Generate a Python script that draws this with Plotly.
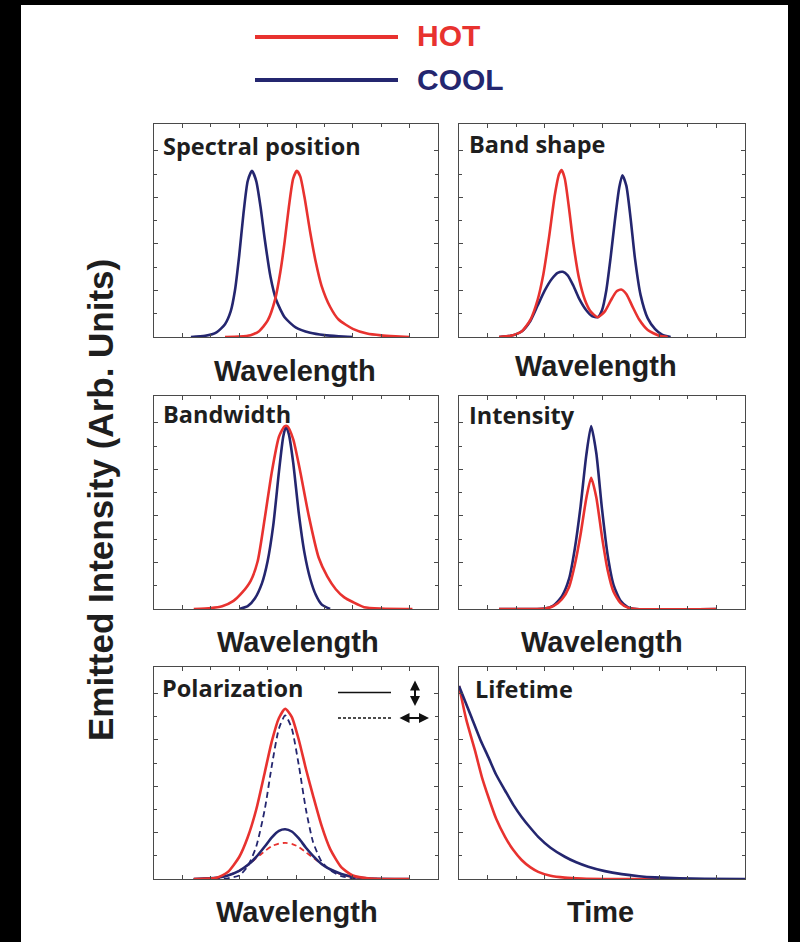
import plotly.graph_objects as go

# ---------------- data ----------------
# Panel 1: Spectral position
sp_hot_x = [2.5, 3.0, 3.4, 3.7, 4.0, 4.27, 4.45, 4.6, 4.75, 4.9, 5.03, 5.15, 5.3, 5.5, 5.7, 5.9, 6.2, 6.5, 7.0, 7.5, 8.0, 8.5, 9.0]
sp_hot_y = [0.0, 0.02, 0.08, 0.25, 0.7, 1.64, 2.8, 4.1, 5.6, 6.8, 7.14, 6.9, 6.0, 4.5, 3.2, 2.2, 1.3, 0.75, 0.35, 0.15, 0.07, 0.03, 0.0]
sp_cool_x = [1.3, 1.8, 2.2, 2.5, 2.7, 2.85, 3.0, 3.15, 3.3, 3.45, 3.6, 3.75, 3.9, 4.1, 4.3, 4.6, 5.0, 5.5, 6.0, 6.5, 7.0]
sp_cool_y = [0.0, 0.05, 0.2, 0.55, 1.1, 2.0, 3.5, 5.3, 6.7, 7.14, 6.7, 5.6, 4.2, 2.6, 1.6, 0.85, 0.4, 0.18, 0.08, 0.03, 0.0]

# Panel 2: Band shape
bs_hot_x = [1.4, 1.8, 2.2, 2.5, 2.75, 2.95, 3.15, 3.35, 3.5, 3.59, 3.7, 3.85, 4.0, 4.2, 4.4, 4.6, 4.85, 5.1, 5.3, 5.5, 5.67, 5.85, 6.05, 6.3, 6.6, 7.0, 7.3]
bs_hot_y = [0.0, 0.05, 0.25, 0.75, 1.6, 2.7, 4.3, 6.1, 7.0, 7.17, 6.8, 5.5, 4.0, 2.5, 1.6, 1.1, 0.85, 1.1, 1.55, 1.95, 2.04, 1.85, 1.35, 0.75, 0.3, 0.05, 0.0]
bs_cool_x = [1.4, 1.8, 2.2, 2.5, 2.75, 3.0, 3.25, 3.45, 3.63, 3.8, 4.0, 4.2, 4.45, 4.65, 4.85, 5.0, 5.15, 5.3, 5.45, 5.6, 5.71, 5.85, 6.0, 6.15, 6.35, 6.6, 6.85, 7.1, 7.4]
bs_cool_y = [0.0, 0.05, 0.25, 0.7, 1.35, 2.0, 2.5, 2.75, 2.8, 2.65, 2.2, 1.65, 1.15, 0.9, 0.85, 1.15, 2.0, 3.4, 5.0, 6.4, 6.95, 6.5, 5.1, 3.4, 1.8, 0.8, 0.35, 0.1, 0.0]

# Panel 3: Bandwidth
bw_hot_x = [1.4, 2.0, 2.4, 2.8, 3.1, 3.4, 3.65, 3.9, 4.15, 4.4, 4.6, 4.7, 4.9, 5.15, 5.45, 5.8, 6.1, 6.4, 6.7, 7.0, 7.4, 8.0, 9.1]
bw_hot_y = [0.0, 0.04, 0.12, 0.35, 0.7, 1.2, 2.05, 3.9, 5.9, 7.4, 7.85, 7.85, 7.3, 5.9, 4.0, 2.2, 1.4, 0.85, 0.5, 0.3, 0.08, 0.02, 0.0]
bw_cool_x = [3.0, 3.3, 3.55, 3.8, 4.0, 4.2, 4.4, 4.55, 4.65, 4.75, 4.9, 5.1, 5.3, 5.5, 5.7, 5.9, 6.2]
bw_cool_y = [0.0, 0.12, 0.45, 1.1, 2.05, 3.6, 5.9, 7.4, 7.85, 7.5, 6.3, 4.1, 2.4, 1.3, 0.6, 0.2, 0.0]

# Panel 4: Intensity
in_x = [1.4, 3.0, 3.3, 3.6, 3.85, 4.05, 4.25, 4.45, 4.62, 4.8, 5.0, 5.2, 5.4, 5.65, 5.9, 6.2, 9.0]
in_cool_y = [0.0, 0.02, 0.15, 0.55, 1.3, 2.6, 4.4, 6.6, 7.86, 6.7, 4.3, 2.3, 1.05, 0.35, 0.08, 0.0, 0.0]
in_hot_y = [0.0, 0.02, 0.12, 0.42, 0.95, 1.9, 3.2, 4.75, 5.64, 4.8, 3.1, 1.65, 0.75, 0.25, 0.06, 0.0, 0.0]

# Panel 5: Polarization
po_x = [1.4, 2.2, 2.6, 3.0, 3.3, 3.6, 3.9, 4.15, 4.4, 4.62, 4.85, 5.1, 5.35, 5.6, 5.9, 6.2, 6.6, 7.0, 7.6, 9.0]
po_hot_solid = [0.0, 0.05, 0.3, 0.95, 1.8, 3.0, 4.6, 5.95, 6.95, 7.35, 7.0, 6.0, 4.75, 3.6, 2.3, 1.3, 0.5, 0.15, 0.02, 0.0]
po_cool_dash = [0.0, 0.0, 0.03, 0.15, 0.55, 1.4, 3.0, 4.9, 6.5, 7.06, 6.5, 4.9, 3.0, 1.6, 0.75, 0.38, 0.12, 0.03, 0.0, 0.0]
po_cool_solid = [0.0, 0.05, 0.15, 0.35, 0.6, 0.95, 1.4, 1.8, 2.08, 2.15, 2.05, 1.75, 1.35, 1.0, 0.65, 0.42, 0.22, 0.1, 0.02, 0.0]
po_hot_dash = [0.0, 0.05, 0.15, 0.35, 0.6, 0.9, 1.2, 1.42, 1.53, 1.56, 1.52, 1.38, 1.15, 0.92, 0.65, 0.42, 0.2, 0.08, 0.02, 0.0]

# Panel 6: Lifetime
lt_hot_t = [0, 0.25, 0.56, 0.8, 1.03, 1.3, 1.61, 1.9, 2.19, 2.5, 2.77, 3.2, 3.7, 4.3, 5.1, 6.0, 8.0]
lt_hot_y = [8.33, 6.9, 5.54, 4.4, 3.53, 2.6, 1.82, 1.25, 0.82, 0.5, 0.31, 0.14, 0.06, 0.02, 0.0, 0.0, 0.0]
lt_cool_t = [0, 0.44, 0.75, 1.03, 1.3, 1.61, 1.9, 2.19, 2.5, 2.77, 3.2, 3.7, 4.1, 4.52, 5.1, 5.69, 6.3, 6.85, 7.7, 8.6, 10]
lt_cool_y = [8.33, 6.97, 6.0, 5.25, 4.5, 3.82, 3.2, 2.68, 2.2, 1.82, 1.35, 0.96, 0.72, 0.53, 0.34, 0.21, 0.12, 0.07, 0.03, 0.01, 0.0]

panel_titles = ["Spectral position", "Band shape", "Bandwidth", "Intensity", "Polarization", "Lifetime"]
x_labels = ["Wavelength", "Wavelength", "Wavelength", "Wavelength", "Wavelength", "Time"]
y_title = "Emitted Intensity (Arb. Units)"
legend_names = ["HOT", "COOL"]

# ---------------- styling ----------------
W, H = 800, 942
RED = "#E8322F"
NAVY = "#24266F"
FRAME = "#4a4a4a"
TXT = "#1e1e1e"

def X(px):
    return px / W

def Y(py):
    return 1 - py / H

col_px = [(154, 438), (459, 745)]
row_px = [(124, 337), (396, 609), (667, 879)]

fig = go.Figure()

def add(i, x, y, color, dash="solid", width=2.6):
    ax = "" if i == 1 else str(i)
    fig.add_trace(go.Scatter(x=x, y=y, mode="lines", xaxis="x" + ax, yaxis="y" + ax,
                             line=dict(color=color, width=width, dash=dash, shape="spline", smoothing=0.6),
                             showlegend=False, hoverinfo="skip"))

add(1, sp_cool_x, sp_cool_y, NAVY)
add(1, sp_hot_x, sp_hot_y, RED)
add(2, bs_cool_x, bs_cool_y, NAVY)
add(2, bs_hot_x, bs_hot_y, RED)
add(3, bw_cool_x, bw_cool_y, NAVY)
add(3, bw_hot_x, bw_hot_y, RED)
add(4, in_x, in_cool_y, NAVY)
add(4, in_x, in_hot_y, RED)
add(5, po_x, po_hot_dash, RED, dash="5px,4px", width=1.8)
add(5, po_x, po_cool_dash, NAVY, dash="6px,4px", width=1.8)
add(5, po_x, po_cool_solid, NAVY)
add(5, po_x, po_hot_solid, RED)
add(6, lt_hot_t, lt_hot_y, RED)
add(6, lt_cool_t, lt_cool_y, NAVY)

layout = dict(width=W, height=H, margin=dict(l=0, r=0, t=0, b=0),
              paper_bgcolor="white", plot_bgcolor="white", showlegend=False)

for i in range(6):
    r, c = divmod(i, 2)
    x0, x1 = col_px[c]
    y0, y1 = row_px[r]
    k = "" if i == 0 else str(i + 1)
    common = dict(showline=True, linecolor=FRAME, linewidth=1.3, mirror="ticks",
                  ticks="inside", tickcolor=FRAME, tickwidth=1, showticklabels=False,
                  showgrid=False, zeroline=False, fixedrange=True)
    layout["xaxis" + k] = dict(domain=[X(x0), X(x1)], range=[0, 10], anchor="y" + k,
                               tickmode="array", tickvals=[1, 3, 5, 7, 9], ticklen=4,
                               minor=dict(tickmode="array", tickvals=[2, 4, 6, 8], ticklen=2.5,
                                          ticks="inside", tickcolor=FRAME, showgrid=False),
                               **common)
    layout["yaxis" + k] = dict(domain=[Y(y1), Y(y0)], range=[0, 9.15], anchor="x" + k,
                               tickmode="array", tickvals=[2, 4, 6, 8], ticklen=4,
                               minor=dict(tickmode="array", tickvals=[1, 3, 5, 7], ticklen=2.5,
                                          ticks="inside", tickcolor=FRAME, showgrid=False),
                               **common)

fig.update_layout(**layout)

ann = []
title_pos = [(161, 146), (467, 143.5), (161, 414), (467, 414.5), (160, 688), (473, 689)]
for t, (px, py) in zip(panel_titles, title_pos):
    ann.append(dict(text=t, x=X(px), y=Y(py), xref="paper", yref="paper", xanchor="left", yanchor="middle",
                    showarrow=False, font=dict(family="Open Sans", size=23.5, color=TXT, weight=700)))

label_pos = [(295, 371), (596, 366), (298, 642), (602, 642), (297, 912), (600, 912)]
for t, (px, py) in zip(x_labels, label_pos):
    ann.append(dict(text=t, x=X(px), y=Y(py), xref="paper", yref="paper", xanchor="center", yanchor="middle",
                    showarrow=False, font=dict(family="Liberation Sans, Arial", size=29, color=TXT, weight=700)))

ann.append(dict(text=y_title, x=X(100), y=Y(500), xref="paper", yref="paper", xanchor="center", yanchor="middle",
                textangle=-90, showarrow=False,
                font=dict(family="Liberation Sans, Arial", size=35, color=TXT, weight=700)))

# top legend text
ann.append(dict(text=legend_names[0], x=X(415), y=Y(36), xref="paper", yref="paper", xanchor="left", yanchor="middle",
                showarrow=False, font=dict(family="Liberation Sans, Arial", size=30, color=RED, weight=700)))
ann.append(dict(text=legend_names[1], x=X(415), y=Y(80), xref="paper", yref="paper", xanchor="left", yanchor="middle",
                showarrow=False, font=dict(family="Liberation Sans, Arial", size=30, color=NAVY, weight=700)))

# polarization arrows (double headed)
ann.append(dict(x=X(415), y=Y(706), ax=0, ay=-27, xref="paper", yref="paper", axref="pixel", ayref="pixel",
                text="", showarrow=True, arrowhead=2, arrowside="end+start", arrowsize=1.0, arrowwidth=2, arrowcolor="#111"))
ann.append(dict(x=X(429), y=Y(718), ax=-31, ay=0, xref="paper", yref="paper", axref="pixel", ayref="pixel",
                text="", showarrow=True, arrowhead=2, arrowside="end+start", arrowsize=1.0, arrowwidth=2, arrowcolor="#111"))

shapes = [
    dict(type="line", xref="paper", yref="paper", x0=X(255), x1=X(398), y0=Y(37), y1=Y(37), line=dict(color=RED, width=4)),
    dict(type="line", xref="paper", yref="paper", x0=X(255), x1=X(398), y0=Y(80), y1=Y(80), line=dict(color=NAVY, width=4)),
    dict(type="line", xref="paper", yref="paper", x0=X(338), x1=X(391), y0=Y(692.5), y1=Y(692.5), line=dict(color="#111", width=1.5)),
    dict(type="line", xref="paper", yref="paper", x0=X(338), x1=X(391), y0=Y(718), y1=Y(718), line=dict(color="#111", width=1.5, dash="3px,2px")),
    # black strips at the image edges
    dict(type="rect", xref="paper", yref="paper", x0=0, x1=X(21), y0=0, y1=1, fillcolor="black", line=dict(width=0)),
    dict(type="rect", xref="paper", yref="paper", x0=X(788), x1=1, y0=0, y1=1, fillcolor="black", line=dict(width=0)),
    dict(type="rect", xref="paper", yref="paper", x0=0, x1=1, y0=Y(5), y1=1, fillcolor="black", line=dict(width=0)),
]

fig.update_layout(annotations=ann, shapes=shapes)
fig.write_html("out.html")
